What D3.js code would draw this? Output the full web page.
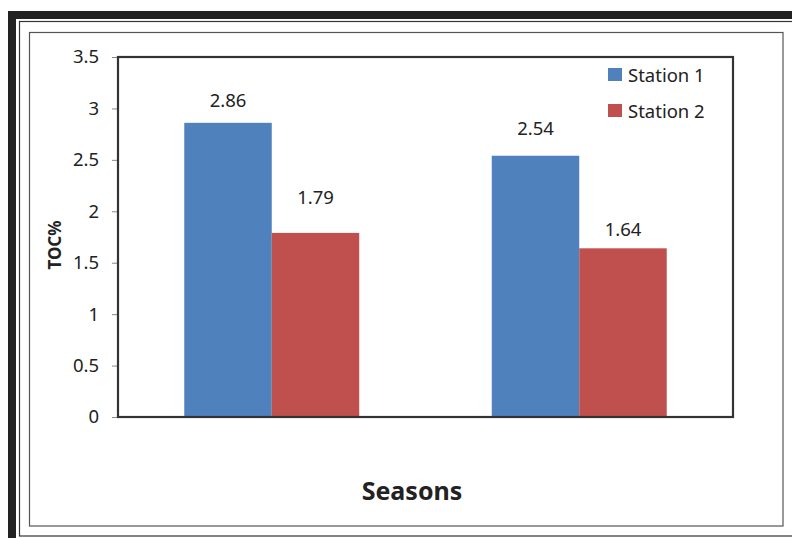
<!DOCTYPE html>
<html>
<head>
<meta charset="utf-8">
<script src="https://cdn.jsdelivr.net/npm/d3@7"></script>
<style>
  body { margin: 0; background: #fff; }
  svg { display: block; font-family: 'Noto Sans', 'Open Sans', sans-serif; }
</style>
</head>
<body>
<svg id="chart"></svg>
<script>
const seasons = ['Season 1', 'Season 2']
const series = ['Station 1', 'Station 2']
const station1 = [2.86, 2.54]
const station2 = [1.79, 1.64]
const yTicks = [0, 0.5, 1, 1.5, 2, 2.5, 3, 3.5]
const colors = ['#4F81BD', '#C0504D']
// data labels were nudged by hand in the original
const labelGap1 = [16, 21]
const labelGap2 = [29, 12]

const w = 792
const h = 538
const plot = { left: 118, top: 57, right: 733, bottom: 417 }

const svg = d3.select('#chart').attr('width', w).attr('height', h)

// page decoration: heavy frame + double thin frame
svg.append('rect').attr('x', 8).attr('y', 11).attr('width', 800).attr('height', 8).attr('fill', '#222')
svg.append('rect').attr('x', 8).attr('y', 11).attr('width', 8).attr('height', 540).attr('fill', '#222')
svg.append('rect').attr('x', 19.5).attr('y', 21.5).attr('width', 800).attr('height', 514.5)
  .attr('fill', 'none').attr('stroke', '#333').attr('stroke-width', 1.2)
svg.append('rect').attr('x', 29.5).attr('y', 32.5).attr('width', 753.5).attr('height', 493.5)
  .attr('fill', 'none').attr('stroke', '#555').attr('stroke-width', 1.2)

const rows = seasons.map((s, i) => ({
  season: s,
  values: [station1[i], station2[i]],
  gaps: [labelGap1[i], labelGap2[i]]
}))

const x0 = d3.scaleBand().domain(seasons).range([plot.left, plot.right])
  .paddingInner(0.431).paddingOuter(0.2155)
const x1 = d3.scaleBand().domain(series).range([0, x0.bandwidth()])
const y = d3.scaleLinear().domain([0, 3.5]).range([plot.bottom, plot.top])

// y axis
const yAxis = d3.axisLeft(y).tickValues(yTicks).tickFormat(d3.format('')).tickSize(6).tickPadding(13)
const ga = svg.append('g').attr('transform', `translate(${plot.left},0)`).call(yAxis)
ga.select('.domain').remove()
ga.selectAll('.tick line').attr('stroke', '#888')
ga.selectAll('.tick text').attr('font-size', 18.5).attr('fill', '#222')
  .style('font-family', "'Noto Sans', sans-serif")

// bars
const groups = svg.append('g').selectAll('g').data(rows).join('g')
  .attr('transform', d => `translate(${x0(d.season)},0)`)

const items = d => d.values.map((v, i) => ({ key: series[i], v, i, gap: d.gaps[i] }))

groups.selectAll('rect')
  .data(items)
  .join('rect')
  .attr('x', d => x1(d.key))
  .attr('y', d => y(d.v))
  .attr('width', x1.bandwidth())
  .attr('height', d => y(0) - y(d.v))
  .attr('fill', d => colors[d.i])

groups.selectAll('text')
  .data(items)
  .join('text')
  .attr('x', d => x1(d.key) + x1.bandwidth() / 2)
  .attr('y', d => y(d.v) - d.gap)
  .attr('text-anchor', 'middle')
  .attr('font-size', 18.5)
  .attr('fill', '#222')
  .text(d => d.v.toFixed(2))

// plot frame
svg.append('rect')
  .attr('x', plot.left).attr('y', plot.top)
  .attr('width', plot.right - plot.left).attr('height', plot.bottom - plot.top)
  .attr('fill', 'none').attr('stroke', '#333').attr('stroke-width', 2.2)

// legend
const legend = svg.append('g').attr('transform', 'translate(608,68)')
series.forEach((s, i) => {
  const g = legend.append('g').attr('transform', `translate(0,${i * 36})`)
  g.append('rect').attr('width', 14).attr('height', 13).attr('fill', colors[i])
  g.append('text').attr('x', 20).attr('y', 14).attr('font-size', 18.5).attr('fill', '#222').text(s)
})

// axis titles
svg.append('text')
  .attr('x', 412).attr('y', 500)
  .attr('text-anchor', 'middle')
  .attr('font-size', 25).attr('font-weight', 'bold').attr('fill', '#222')
  .text('Seasons')

svg.append('text')
  .attr('transform', 'translate(61,245) rotate(-90)')
  .attr('text-anchor', 'middle')
  .attr('font-size', 17).attr('font-weight', 'bold').attr('fill', '#222')
  .text('TOC%')
</script>
</body>
</html>
